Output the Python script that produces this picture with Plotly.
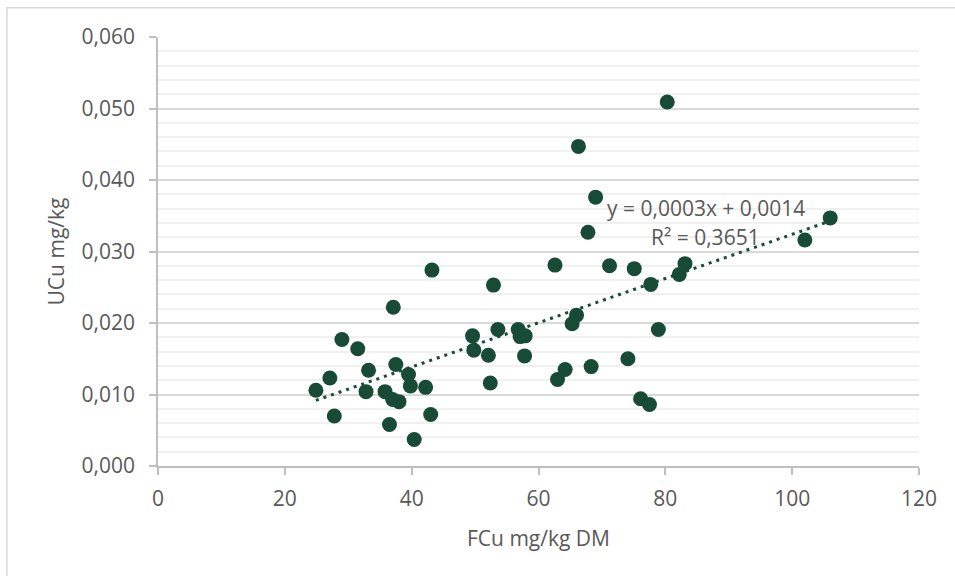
import numpy as np
import plotly.graph_objects as go

# FCu (mg/kg DM) and UCu (mg/kg)
fcu = [43.2, 37.1, 29.0, 31.5, 49.6, 49.8, 33.2, 37.5, 39.5, 27.1,
       24.9, 32.8, 35.8, 39.8, 42.2, 37.0, 38.0, 27.8, 43.0, 36.5,
       40.4, 62.6, 71.2, 75.1, 52.9, 83.1, 82.2, 77.7, 66.0, 65.3,
       53.6, 56.8, 57.1, 57.9, 52.1, 57.8, 78.9, 64.2, 63.0, 68.3,
       74.1, 52.4, 76.1, 77.5, 80.3, 66.3, 69.0, 67.8, 106.0, 102.0]
ucu = [0.0274, 0.0222, 0.0177, 0.0164, 0.0182, 0.0162, 0.0134, 0.0142, 0.0128, 0.0123,
       0.0106, 0.0104, 0.0104, 0.0112, 0.0110, 0.0093, 0.0090, 0.0070, 0.0072, 0.0058,
       0.0037, 0.0281, 0.0280, 0.0276, 0.0253, 0.0283, 0.0268, 0.0254, 0.0211, 0.0199,
       0.0191, 0.0191, 0.0181, 0.0182, 0.0155, 0.0154, 0.0191, 0.0135, 0.0121, 0.0139,
       0.0150, 0.0116, 0.0094, 0.0086, 0.0509, 0.0447, 0.0376, 0.0327, 0.0347, 0.0316]

eq_text = "y = 0,0003x + 0,0014"
r2_text = "R² = 0,3651"
x_title = "FCu mg/kg DM"
y_title = "UCu mg/kg"

GREEN = "#174B35"
GREY_TXT = "#595959"
FONT = "Open Sans"

slope, intercept = np.polyfit(fcu, ucu, 1)
xs = np.array([min(fcu), max(fcu)])
ys = slope * xs + intercept

fig = go.Figure()
fig.add_trace(go.Scatter(
    x=xs, y=ys, mode="lines",
    line=dict(color=GREEN, width=3, dash="3px,5px"),
    hoverinfo="skip", showlegend=False))
fig.add_trace(go.Scatter(
    x=fcu, y=ucu, mode="markers",
    marker=dict(color=GREEN, size=15, line=dict(width=0)),
    showlegend=False))

fig.add_annotation(x=86.4, y=0.0361, text=eq_text, showarrow=False,
                   font=dict(family=FONT, size=21, color=GREY_TXT))
fig.add_annotation(x=86.4, y=0.0320, text=r2_text, showarrow=False,
                   font=dict(family=FONT, size=21, color=GREY_TXT))

# outer chart border (top and left edges visible)
fig.add_shape(type="path", xref="paper", yref="paper",
              path="M -0.1985,-0.30 L -0.1985,1.0684 L 1.10,1.0684",
              line=dict(color="#d9d9d9", width=1.5))

fig.update_layout(
    width=955, height=576,
    margin=dict(l=158, r=36, t=37, b=110),
    paper_bgcolor="white", plot_bgcolor="white",
    separators=", ",
    font=dict(family=FONT, size=21, color=GREY_TXT),
    xaxis=dict(
        range=[0, 120], dtick=20, tick0=0,
        showgrid=False, zeroline=False,
        showline=True, linecolor="#bfbfbf", linewidth=1.5,
        ticks="outside", ticklen=7, tickcolor="#bfbfbf", tickwidth=1.5,
        ticklabelstandoff=6,
        tickfont=dict(family=FONT, size=21, color=GREY_TXT),
        title=dict(text=x_title, font=dict(family=FONT, size=21, color=GREY_TXT), standoff=20),
    ),
    yaxis=dict(
        range=[0, 0.06], dtick=0.01, tick0=0, tickformat=".3f",
        showgrid=True, gridcolor="#d9d9d9", gridwidth=1.5,
        zeroline=False,
        showline=True, linecolor="#bfbfbf", linewidth=1.5,
        ticks="outside", ticklen=7, tickcolor="#bfbfbf", tickwidth=1.5,
        ticklabelstandoff=10,
        tickfont=dict(family=FONT, size=21, color=GREY_TXT),
        title=dict(text=y_title, font=dict(family=FONT, size=21, color=GREY_TXT), standoff=11),
        minor=dict(dtick=0.002, showgrid=True, gridcolor="#f0f0f0", gridwidth=1.5, ticks=""),
    ),
)

fig.write_html("out.html")
